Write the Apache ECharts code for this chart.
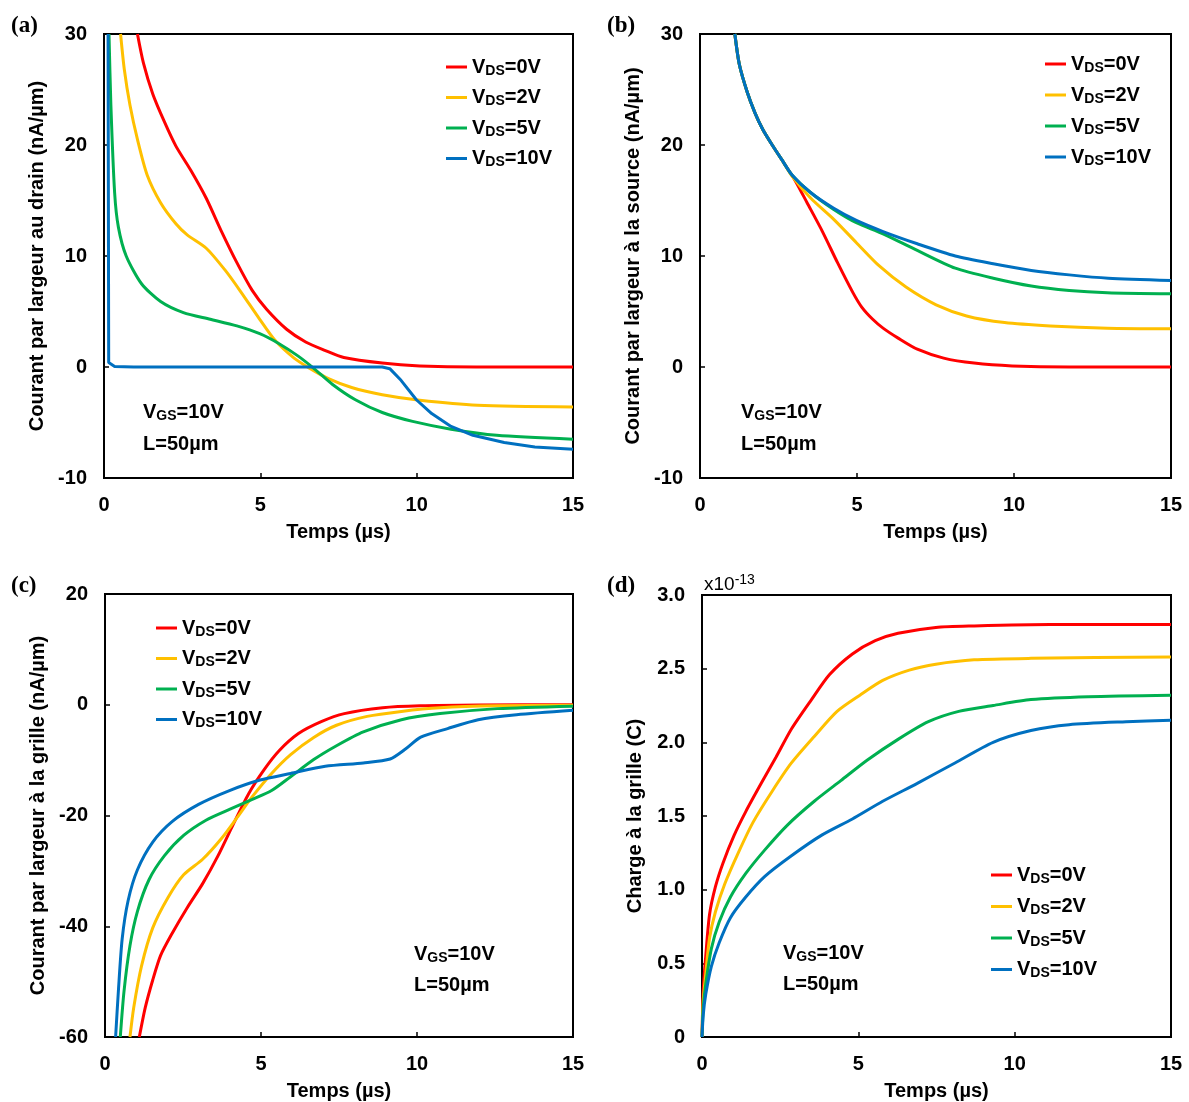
<!DOCTYPE html>
<html>
<head>
<meta charset="utf-8">
<script src="https://cdn.jsdelivr.net/npm/echarts@6/dist/echarts.min.js"></script>
<style>
  html, body { margin: 0; padding: 0; background: #fff; }
  #chart { width: 1189px; height: 1102px; }
</style>
</head>
<body>
<div id="chart"></div>
<script>
// temps en µs, courant en nA/µm, charge en 1e-13 C
const seriesNames = ['VDS=0V', 'VDS=2V', 'VDS=5V', 'VDS=10V']
const seriesColors = ['#ff0000', '#ffc000', '#00b050', '#0070c0']
const timeTicks = [0, 5, 10, 15]

// (a) courant au drain
const drainVds0 = [[1.07, 30], [1.26, 27.4], [1.56, 24.6], [1.93, 22.1], [2.3, 19.9], [2.78, 17.7], [3.27, 15.2], [3.76, 12.2], [4.25, 9.4], [4.74, 6.9], [5.2, 5.2], [5.84, 3.4], [6.45, 2.25], [7.06, 1.5], [7.67, 0.85], [8.9, 0.35], [10.1, 0.1], [11.9, 0], [15, 0]]
const drainVds2 = [[0.53, 30], [0.65, 26.8], [0.83, 23.6], [1.07, 20.5], [1.38, 17.3], [1.81, 14.8], [2.3, 12.9], [2.66, 11.9], [3.27, 10.7], [3.88, 8.7], [4.37, 6.8], [4.98, 4.3], [5.47, 2.4], [6.08, 0.8], [6.57, -0.1], [7.18, -1.05], [7.92, -1.85], [8.9, -2.5], [10.1, -3.0], [11.95, -3.45], [15, -3.6]]
const drainVds5 = [[0.16, 30], [0.22, 23.6], [0.34, 15.7], [0.46, 12.6], [0.71, 10.0], [1.2, 7.5], [1.81, 5.9], [2.54, 4.9], [3.4, 4.3], [4.25, 3.7], [4.98, 3.0], [5.6, 2.1], [6.2, 1.0], [6.7, -0.1], [7.3, -1.55], [8.04, -2.95], [8.9, -4.1], [9.87, -4.9], [11.1, -5.6], [12.56, -6.15], [15, -6.5]]
const drainVds10 = [[0.13, 30], [0.15, 0.4], [0.34, 0.05], [0.95, 0], [8.9, 0], [9.14, -0.15], [9.5, -1.2], [9.99, -2.95], [10.48, -4.2], [11.1, -5.35], [11.8, -6.15], [12.8, -6.8], [13.78, -7.2], [15, -7.4]]

// (b) courant à la source
const sourceVds0 = [[1.11, 30], [1.25, 27.3], [1.5, 24.8], [1.75, 22.9], [2.0, 21.4], [2.3, 20.0], [2.69, 18.3], [3.05, 16.7], [3.41, 14.8], [3.9, 12.2], [4.38, 9.4], [4.87, 6.7], [5.15, 5.4], [5.5, 4.3], [5.83, 3.5], [6.31, 2.6], [6.92, 1.6], [7.76, 0.8], [8.73, 0.35], [9.94, 0.1], [11.76, 0], [15, 0]]
const sourceVds2 = [[1.11, 30], [1.25, 27.3], [1.5, 24.8], [1.75, 22.9], [2.0, 21.4], [2.3, 20.0], [2.6, 18.7], [2.93, 17.2], [3.53, 15.2], [4.26, 13.3], [4.98, 11.2], [5.71, 9.1], [6.56, 7.2], [7.52, 5.6], [8.49, 4.6], [9.7, 4.0], [11.15, 3.7], [12.97, 3.5], [15, 3.45]]
const sourceVds5 = [[1.11, 30], [1.25, 27.3], [1.5, 24.8], [1.75, 22.9], [2.0, 21.4], [2.3, 20.0], [2.6, 18.7], [2.93, 17.3], [3.53, 15.7], [4.26, 14.2], [4.98, 13.0], [5.83, 12.0], [6.92, 10.5], [8.13, 8.9], [9.34, 8.0], [10.55, 7.3], [11.76, 6.9], [12.97, 6.7], [15, 6.6]]
const sourceVds10 = [[1.11, 30], [1.25, 27.3], [1.5, 24.8], [1.75, 22.9], [2.0, 21.4], [2.3, 20.0], [2.6, 18.7], [2.93, 17.3], [3.53, 15.7], [4.26, 14.3], [4.98, 13.2], [5.83, 12.2], [6.92, 11.1], [8.13, 10.0], [9.34, 9.3], [10.55, 8.7], [11.76, 8.3], [13, 8.0], [15, 7.8]]

// (c) courant à la grille
const gateVds0 = [[1.1, -60], [1.29, -54.7], [1.53, -49.7], [1.78, -45.3], [2.15, -41.3], [2.64, -36.6], [3.13, -32.3], [3.62, -27.3], [4.11, -21.6], [4.6, -16.1], [5.09, -11.8], [5.58, -8.3], [6.2, -5.2], [6.93, -3.05], [7.67, -1.6], [8.9, -0.55], [10.1, -0.2], [11.96, -0.05], [15, 0]]
const gateVds2 = [[0.8, -60], [0.92, -54.7], [1.17, -47.2], [1.53, -40.3], [2.02, -34.8], [2.52, -30.7], [3.13, -27.9], [3.74, -24.1], [4.23, -20.4], [4.72, -16.6], [5.34, -12.4], [5.95, -9.0], [6.69, -5.9], [7.42, -3.7], [8.4, -2.1], [9.5, -1.2], [10.74, -0.55], [12.58, -0.2], [15, -0.1]]
const gateVds5 = [[0.49, -60], [0.61, -51.7], [0.8, -43.5], [1.04, -37.3], [1.41, -31.6], [1.9, -27.3], [2.52, -23.6], [3.25, -20.8], [3.99, -18.9], [4.72, -17.1], [5.34, -15.5], [5.95, -13.0], [6.69, -9.9], [7.42, -7.4], [8.28, -4.9], [9.5, -2.7], [10.74, -1.6], [12.58, -0.7], [15, -0.25]]
const gateVds10 = [[0.34, -60], [0.43, -51.6], [0.55, -42.3], [0.74, -35.4], [1.04, -29.8], [1.53, -24.8], [2.15, -21.1], [3.0, -18.0], [3.99, -15.5], [4.97, -13.6], [5.95, -12.4], [7.06, -11.1], [8.28, -10.5], [9.14, -9.8], [9.63, -8.0], [10.12, -5.85], [10.98, -4.3], [11.96, -2.7], [13.19, -1.8], [15, -1.0]]

// (d) charge à la grille (x1e-13 C)
const chargeVds0 = [[0, 0], [0.04, 0.32], [0.12, 0.55], [0.24, 0.83], [0.43, 1.02], [0.67, 1.18], [1.03, 1.37], [1.4, 1.53], [1.89, 1.72], [2.37, 1.9], [2.86, 2.09], [3.47, 2.28], [4.08, 2.46], [4.81, 2.6], [5.54, 2.69], [6.27, 2.74], [7.48, 2.78], [8.7, 2.79], [11.13, 2.8], [15, 2.8]]
const chargeVds2 = [[0, 0], [0.04, 0.25], [0.12, 0.43], [0.24, 0.67], [0.43, 0.85], [0.73, 1.04], [1.16, 1.25], [1.64, 1.46], [2.25, 1.67], [2.86, 1.86], [3.59, 2.04], [4.32, 2.21], [5.05, 2.32], [5.78, 2.42], [6.63, 2.49], [7.48, 2.53], [8.7, 2.56], [10.52, 2.57], [15, 2.58]]
const chargeVds5 = [[0, 0], [0.04, 0.2], [0.12, 0.36], [0.3, 0.6], [0.55, 0.78], [0.91, 0.95], [1.4, 1.11], [2.01, 1.27], [2.74, 1.44], [3.59, 1.6], [4.44, 1.74], [5.29, 1.88], [6.27, 2.02], [7.24, 2.14], [8.21, 2.21], [9.31, 2.25], [10.52, 2.29], [12.35, 2.31], [15, 2.32]]
const chargeVds10 = [[0, 0], [0.04, 0.15], [0.12, 0.29], [0.3, 0.48], [0.55, 0.64], [0.91, 0.81], [1.4, 0.95], [2.01, 1.09], [2.86, 1.23], [3.83, 1.37], [4.81, 1.48], [5.78, 1.6], [6.87, 1.72], [8.09, 1.86], [9.31, 2.0], [10.52, 2.08], [11.74, 2.12], [13.56, 2.14], [15, 2.15]]

const panelData = [
  [drainVds0, drainVds2, drainVds5, drainVds10],
  [sourceVds0, sourceVds2, sourceVds5, sourceVds10],
  [gateVds0, gateVds2, gateVds5, gateVds10],
  [chargeVds0, chargeVds2, chargeVds5, chargeVds10]
]
const yTitles = [
  'Courant par largeur au drain (nA/µm)',
  'Courant par largeur à la source (nA/µm)',
  'Courant par largeur à la grille (nA/µm)',
  'Charge à la grille (C)'
]
const yRanges = [[-10, 30, 10], [-10, 30, 10], [-60, 20, 20], [0, 3, 0.5]]

const grids = [
  { left: 104, top: 34, width: 469, height: 444 },
  { left: 700, top: 34, width: 471, height: 444 },
  { left: 105, top: 594, width: 468, height: 444 },
  { left: 702, top: 595, width: 469, height: 443 }
]
const legendPos = [
  { left: 446, top: 57, itemGap: 9.5 },
  { left: 1045, top: 54, itemGap: 10 },
  { left: 156, top: 618, itemGap: 9.5 },
  { left: 991, top: 865, itemGap: 10.5 }
]
const notePos = [[143, 412, 444], [741, 412, 444], [414, 954, 985], [783, 953, 984]]
const panelLabels = [['(a)', 11, 26], ['(b)', 607, 26], ['(c)', 11, 586], ['(d)', 607, 586]]

const FONT = '"Liberation Sans", Arial, sans-serif'
const txt = { fontFamily: FONT, fontWeight: 'bold', fontSize: 20, color: '#000' }
const richSub = {
  m: { fontFamily: FONT, fontWeight: 'bold', fontSize: 20, color: '#000', lineHeight: 22 },
  s: { fontFamily: FONT, fontWeight: 'bold', fontSize: 14, color: '#000', lineHeight: 10, verticalAlign: 'bottom' }
}

const chart = echarts.init(document.getElementById('chart'))

const xAxes = grids.map((g, i) => ({
  type: 'value',
  gridIndex: i,
  min: timeTicks[0],
  max: timeTicks[timeTicks.length - 1],
  interval: 5,
  name: 'Temps (µs)',
  nameLocation: 'middle',
  nameGap: 44,
  nameTextStyle: txt,
  axisLine: { onZero: false, lineStyle: { color: '#000', width: 2 } },
  axisTick: { inside: true, length: 5, lineStyle: { color: '#000', width: 1.5 } },
  axisLabel: Object.assign({ margin: 17 }, txt),
  splitLine: { show: false }
}))

const yAxes = grids.map((g, i) => ({
  type: 'value',
  gridIndex: i,
  min: yRanges[i][0],
  max: yRanges[i][1],
  interval: yRanges[i][2],
  name: yTitles[i],
  nameLocation: 'middle',
  nameRotate: 90,
  nameGap: 57,
  nameTextStyle: txt,
  axisLine: { onZero: false, lineStyle: { color: '#000', width: 2 } },
  axisTick: { inside: true, length: 5, lineStyle: { color: '#000', width: 1.5 } },
  axisLabel: Object.assign({
    margin: 17,
    formatter: i === 3 ? (v) => (v === 0 ? '0' : v.toFixed(1)) : null
  }, txt),
  splitLine: { show: false }
}))

const series = []
panelData.forEach((curves, i) => {
  curves.forEach((pts, k) => {
    series.push({
      name: seriesNames[k],
      type: 'line',
      xAxisIndex: i,
      yAxisIndex: i,
      data: pts,
      showSymbol: false,
      symbol: 'none',
      smooth: (i === 0 && k === 3) ? false : 0.25,
      clip: true,
      itemStyle: { color: seriesColors[k] },
      lineStyle: { color: seriesColors[k], width: 3 }
    })
  })
})

const legends = legendPos.map((p) => ({
  left: p.left,
  top: p.top,
  padding: 0,
  orient: 'vertical',
  itemGap: p.itemGap,
  itemWidth: 21,
  itemHeight: 3,
  icon: 'rect',
  selectedMode: false,
  data: seriesNames,
  formatter: (name) => '{m|V}{s|DS}{m|' + name.slice(3) + '}',
  textStyle: { rich: richSub }
}))

const graphic = []
panelLabels.forEach(([t, x, y]) => {
  graphic.push({
    type: 'text', x: x, y: y,
    style: { text: t, font: 'bold 23px "Liberation Serif", "Times New Roman", serif', fill: '#000', verticalAlign: 'middle' }
  })
})
notePos.forEach(([x, y1, y2]) => {
  graphic.push({
    type: 'text', x: x, y: y1,
    style: { text: '{m|V}{s|GS}{m|=10V}', rich: richSub, verticalAlign: 'middle' }
  })
  graphic.push({
    type: 'text', x: x, y: y2,
    style: { text: '{m|L=50µm}', rich: richSub, verticalAlign: 'middle' }
  })
})
graphic.push({
  type: 'text', x: 704, y: 585,
  style: {
    text: '{r|x10}{p|-13}',
    verticalAlign: 'middle',
    rich: {
      r: { fontFamily: FONT, fontSize: 19, color: '#000', lineHeight: 24 },
      p: { fontFamily: FONT, fontSize: 14, color: '#000', lineHeight: 12, verticalAlign: 'top' }
    }
  }
})

chart.setOption({
  backgroundColor: '#fff',
  animation: false,
  grid: grids.map((g) => Object.assign({ show: true, borderColor: '#000', borderWidth: 2, containLabel: false }, g)),
  xAxis: xAxes,
  yAxis: yAxes,
  legend: legends,
  graphic: graphic,
  series: series
})
</script>
</body>
</html>
